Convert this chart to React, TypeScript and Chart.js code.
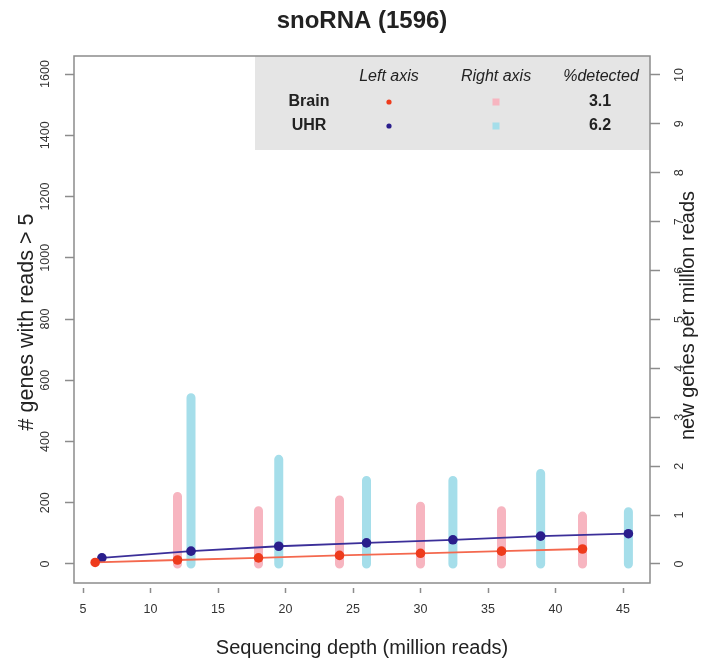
import React, { useEffect, useRef } from "react";
import { Chart, registerables } from "chart.js";

Chart.register(...registerables);

// ---------- data ----------
const chartTitle = "snoRNA (1596)";
const xTitle = "Sequencing depth (million reads)";
const leftTitle = "# genes with reads > 5";
const rightTitle = "new genes per million reads";

const seriesNames = ["Brain", "UHR"];
const pctDetected = ["3.1", "6.2"];
const legendHeaders = ["Left axis", "Right axis", "%detected"];

const brainDepth = [5.9, 12, 18, 24, 30, 36, 42];
const brainGenes = [5, 13, 20, 28, 35, 42, 49];
const brainNewRate = [1.38, 1.09, 1.31, 1.18, 1.09, 0.98];

const uhrDepth = [6.4, 13, 19.5, 26, 32.4, 38.9, 45.4];
const uhrGenes = [20, 42, 58, 69, 79, 91, 99];
const uhrNewRate = [3.4, 2.14, 1.71, 1.71, 1.85, 1.07];

const xTicks = [5, 10, 15, 20, 25, 30, 35, 40, 45];
const leftTicks = [0, 200, 400, 600, 800, 1000, 1200, 1400, 1600];
const rightTicks = [0, 1, 2, 3, 4, 5, 6, 7, 8, 9, 10];

// ---------- styles ----------
const FONT = "'Liberation Sans', Arial, Helvetica, sans-serif";
const brainPoint = "#EE3B1C";
const brainLine = "#F4684E";
const brainBar = "#F7B5C0";
const uhrPoint = "#2A1E8C";
const uhrLine = "#3B2F99";
const uhrBar = "#A5DEEA";
const axisGray = "#8c8c8c";
const textCol = "#222222";

function barSegments(depth: number[], rate: number[]) {
  const pts: { x: number; y: number | null }[] = [];
  rate.forEach((r, i) => {
    const x = depth[i + 1];
    pts.push({ x, y: 0 }, { x, y: r }, { x, y: null });
  });
  return pts;
}

function points(depth: number[], vals: number[]) {
  return depth.map((x, i) => ({ x, y: vals[i] }));
}

const decorPlugin = {
  id: "decor",
  beforeDatasetsDraw(chart: any) {
    const { ctx, chartArea } = chart;
    ctx.save();
    ctx.fillStyle = "#E5E5E5";
    ctx.fillRect(255, chartArea.top, chartArea.right - 255, 94);
    ctx.restore();
  },
  afterDraw(chart: any) {
    const { ctx, chartArea } = chart;
    const { left, right, top, bottom } = chartArea;
    const frameBottom = bottom - 5;
    ctx.save();
    // frame
    ctx.strokeStyle = axisGray;
    ctx.lineWidth = 1.5;
    ctx.strokeRect(left, top, right - left, frameBottom - top);

    // main title
    ctx.fillStyle = textCol;
    ctx.font = `bold 24px ${FONT}`;
    ctx.textAlign = "center";
    ctx.textBaseline = "middle";
    ctx.fillText(chartTitle, (left + right) / 2, 21);

    // right axis title (reads bottom to top)
    ctx.save();
    ctx.translate(688, (top + frameBottom) / 2 - 4);
    ctx.rotate(-Math.PI / 2);
    ctx.font = `20px ${FONT}`;
    ctx.fillText(rightTitle, 0, 0);
    ctx.restore();

    // legend table
    const colX = [389, 496, 601];
    ctx.font = `italic 16px ${FONT}`;
    legendHeaders.forEach((h, i) => ctx.fillText(h, colX[i], top + 21));
    const rowY = [top + 46, top + 70];
    const ptCols = [brainPoint, uhrPoint];
    const barCols = [brainBar, uhrBar];
    seriesNames.forEach((name, r) => {
      ctx.fillStyle = textCol;
      ctx.font = `bold 16px ${FONT}`;
      ctx.fillText(name, 309, rowY[r]);
      ctx.fillText(pctDetected[r], 600, rowY[r]);
      ctx.fillStyle = ptCols[r];
      ctx.beginPath();
      ctx.arc(colX[0], rowY[r], 2.6, 0, Math.PI * 2);
      ctx.fill();
      ctx.fillStyle = barCols[r];
      ctx.fillRect(colX[1] - 3.5, rowY[r] - 3.5, 7, 7);
    });
    ctx.restore();
  },
};

export default function App() {
  const ref = useRef<HTMLCanvasElement | null>(null);

  useEffect(() => {
    if (!ref.current) return;
    Chart.defaults.font.family = FONT;
    const tickGrid = (len: number) => ({
      drawOnChartArea: false,
      drawTicks: true,
      tickLength: len,
      tickColor: axisGray,
      tickWidth: 1.5,
    });
    const plain = (v: any) => String(v);
    const chart = new Chart(ref.current, {
      type: "line",
      data: {
        datasets: [
          {
            label: "Brain new",
            data: barSegments(brainDepth, brainNewRate),
            yAxisID: "y2",
            borderColor: brainBar,
            borderWidth: 9,
            borderCapStyle: "round",
            pointRadius: 0,
            spanGaps: false,
            order: 2,
          },
          {
            label: "UHR new",
            data: barSegments(uhrDepth, uhrNewRate),
            yAxisID: "y2",
            borderColor: uhrBar,
            borderWidth: 9,
            borderCapStyle: "round",
            pointRadius: 0,
            spanGaps: false,
            order: 2,
          },
          {
            label: "Brain",
            data: points(brainDepth, brainGenes),
            yAxisID: "y",
            borderColor: brainLine,
            borderWidth: 1.8,
            pointRadius: 4.8,
            pointBorderWidth: 0,
            pointBackgroundColor: brainPoint,
            order: 1,
          },
          {
            label: "UHR",
            data: points(uhrDepth, uhrGenes),
            yAxisID: "y",
            borderColor: uhrLine,
            borderWidth: 1.8,
            pointRadius: 4.8,
            pointBorderWidth: 0,
            pointBackgroundColor: uhrPoint,
            order: 1,
          },
        ] as any,
      },
      options: {
        animation: false,
        responsive: false,
        devicePixelRatio: 1,
        layout: { padding: { top: 56, left: 0, right: 0, bottom: 0 } },
        plugins: {
          legend: { display: false },
          tooltip: { enabled: false },
          title: { display: false },
        },
        scales: {
          x: {
            type: "linear",
            position: "bottom",
            min: 4.333,
            max: 47,
            afterBuildTicks: (s: any) => {
              s.ticks = xTicks.map((v) => ({ value: v }));
            },
            afterFit: (s: any) => {
              s.height = 72;
            },
            grid: tickGrid(5),
            border: { display: false },
            ticks: {
              font: { size: 12.5 },
              color: "#333",
              padding: 9,
              maxRotation: 0,
              autoSkip: false,
              callback: plain,
            },
            title: {
              display: true,
              text: xTitle,
              font: { size: 20 },
              color: textCol,
              padding: { top: 0, bottom: 0 },
            },
          },
          y: {
            type: "linear",
            position: "left",
            min: -78.37,
            max: 1658.8,
            afterBuildTicks: (s: any) => {
              s.ticks = leftTicks.map((v) => ({ value: v }));
            },
            afterFit: (s: any) => {
              s.width = 74;
            },
            grid: tickGrid(9),
            border: { display: false },
            ticks: {
              font: { size: 12.5 },
              color: "#333",
              minRotation: 90,
              maxRotation: 90,
              crossAlign: "center",
              padding: 5.6,
              autoSkip: false,
              callback: plain,
            },
            title: {
              display: true,
              text: leftTitle,
              font: { size: 21.5 },
              color: textCol,
              padding: { top: 14.1, bottom: 0 },
            },
          },
          y2: {
            type: "linear",
            position: "right",
            min: -0.4908,
            max: 10.3885,
            afterBuildTicks: (s: any) => {
              s.ticks = rightTicks.map((v) => ({ value: v }));
            },
            afterFit: (s: any) => {
              s.width = 56;
            },
            grid: tickGrid(10),
            border: { display: false },
            ticks: {
              font: { size: 12.5 },
              color: "#333",
              minRotation: 90,
              maxRotation: 90,
              crossAlign: "center",
              padding: 13,
              autoSkip: false,
              callback: plain,
            },
            title: { display: false },
          },
        },
      } as any,
      plugins: [decorPlugin],
    });
    return () => chart.destroy();
  }, []);

  return (
    <div
      style={{
        position: "absolute",
        left: 0,
        top: 0,
        width: 706,
        height: 660,
        background: "#ffffff",
      }}
    >
      <canvas ref={ref} width={706} height={660} style={{ display: "block" }} />
    </div>
  );
}
